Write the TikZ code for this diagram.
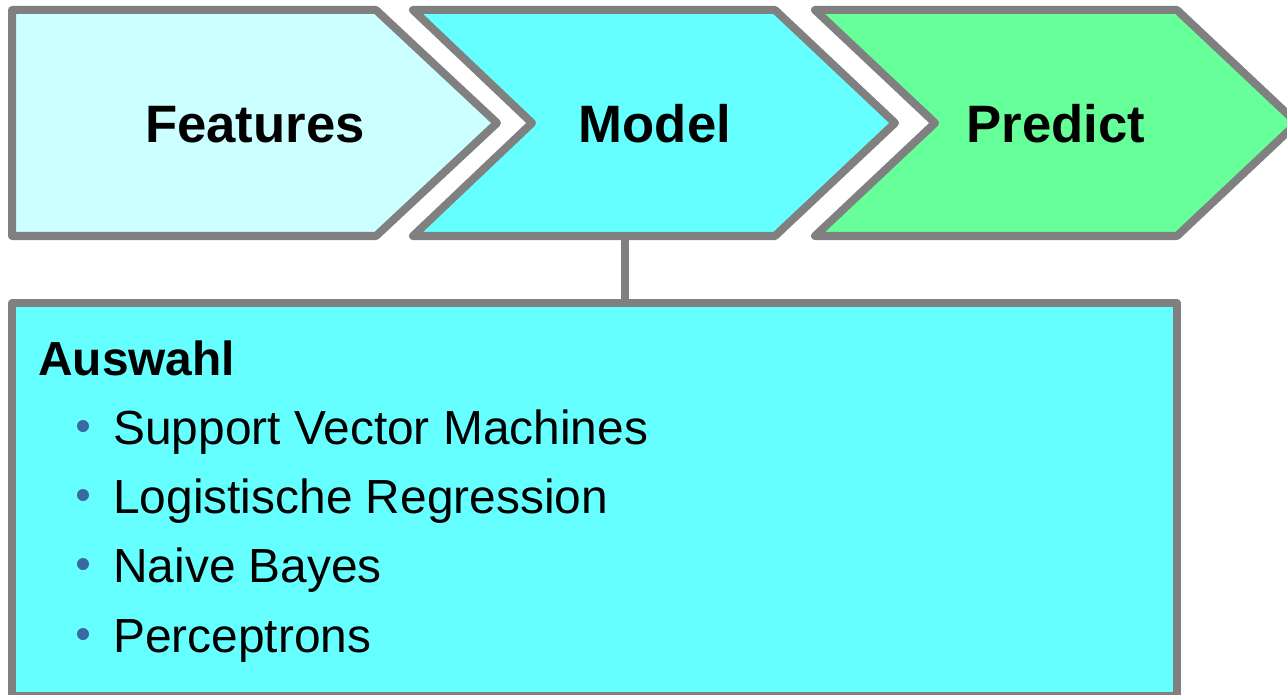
\documentclass[tikz,border=0pt]{standalone}
\usepackage{fontspec}
\setmainfont{Liberation Sans}
\definecolor{edgegray}{HTML}{808080}
\definecolor{featfill}{HTML}{CCFFFF}
\definecolor{modelfill}{HTML}{66FFFF}
\definecolor{predfill}{HTML}{66FF99}
\definecolor{bulletblue}{HTML}{3A68A0}
\tikzset{
  chev/.style={draw=edgegray, line width=6pt, line join=round},
  title/.style={anchor=base, inner sep=0pt, font=\fontsize{39.5}{45}\selectfont\bfseries},
  itemtext/.style={anchor=base west, inner sep=0pt, font=\fontsize{35.9}{42}\selectfont},
  bulletdot/.style={circle, fill=bulletblue, inner sep=0pt, minimum size=9pt},
}
\begin{document}
\begin{tikzpicture}[x=0.75pt,y=-0.75pt]
\useasboundingbox (0,0) rectangle (1287,695);
\clip (0,0) rectangle (1287,695);
% chevrons
\path[chev, fill=featfill] (12,10) -- (376,10) -- (497,123) -- (376,236) -- (12,236) -- cycle;
\path[chev, fill=modelfill] (413,10) -- (775,10) -- (895,123) -- (775,236) -- (413,236) -- (532,123) -- cycle;
\path[chev, fill=predfill] (815,10) -- (1177,10) -- (1297,123) -- (1177,236) -- (815,236) -- (935,123) -- cycle;
\node[title] (features) at (255,143) {Features};
\node[title] (model) at (655,143) {Model};
\node[title] (predict) at (1056,143) {Predict};
\coordinate (modelbottom) at (625,236);
% detail box
\path[chev, fill=modelfill] (12,303) rectangle (1177,696);
\coordinate (boxtop) at (625,303);
\draw[draw=edgegray, line width=6pt] (modelbottom) -- (boxtop);
\node[itemtext, font=\fontsize{35.9}{42}\selectfont\bfseries] (auswahl) at (38,375) {Auswahl};
\node[itemtext] (i1) at (113,444) {Support Vector Machines};
\node[itemtext] (i2) at (113,513) {Logistische Regression};
\node[itemtext] (i3) at (113,582) {Naive Bayes};
\node[itemtext] (i4) at (113,652) {Perceptrons};
\node[bulletdot] (b1) at (83,426) {};
\node[bulletdot] (b2) at (83,495) {};
\node[bulletdot] (b3) at (83,564) {};
\node[bulletdot] (b4) at (83,634) {};
\end{tikzpicture}
\end{document}
